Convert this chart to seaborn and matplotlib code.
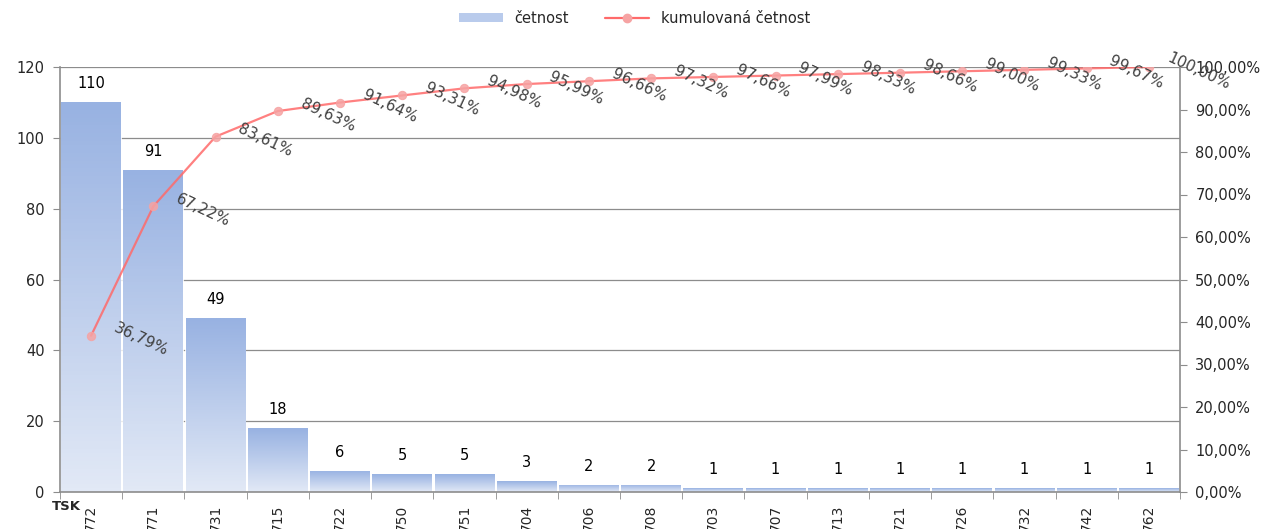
import numpy as np
import pandas as pd
import seaborn as sns
import matplotlib.pyplot as plt
from matplotlib.colors import LinearSegmentedColormap
from matplotlib.patches import Patch
from matplotlib.lines import Line2D

# data
codes = ['772', '771', '731', '715', '722', '750', '751', '704', '706',
         '708', '703', '707', '713', '721', '726', '732', '742', '762']
counts = [110, 91, 49, 18, 6, 5, 5, 3, 2, 2, 1, 1, 1, 1, 1, 1, 1, 1]
cum_pct = [36.79, 67.22, 83.61, 89.63, 91.64, 93.31, 94.98, 95.99, 96.66,
           97.32, 97.66, 97.99, 98.33, 98.66, 99.00, 99.33, 99.67, 100.00]

df = pd.DataFrame({'kod': codes, 'cetnost': counts})

sns.set_style('white')
plt.rcParams['font.family'] = ['DejaVu Sans']

fig = plt.figure(figsize=(12.69, 5.29), dpi=100)
ax = fig.add_axes([60 / 1269, 1 - 492 / 529, 1120 / 1269, 425 / 529])

sns.barplot(data=df, x='kod', y='cetnost', order=codes, ax=ax,
            width=0.96, color='#B4C7EA', edgecolor='white', linewidth=1.2)

# gradient fill inside every bar
grad = LinearSegmentedColormap.from_list('g', ['#E2E9F6', '#98B2E2'])
for p in ax.patches:
    x0, y0 = p.get_x(), p.get_y()
    w, h = p.get_width(), p.get_height()
    im = ax.imshow(np.linspace(0, 1, 100).reshape(-1, 1), cmap=grad,
                   origin='lower', aspect='auto',
                   extent=[x0, x0 + w, y0, y0 + h], zorder=p.get_zorder())
    im.set_clip_path(p)
    p.set_facecolor('none')

for i, v in enumerate(counts):
    ax.annotate(str(v), (i, v), xytext=(0, 8), textcoords='offset points',
                ha='center', va='bottom', fontsize=10.5, color='black')

ax.set_xlim(-0.5, len(codes) - 0.5)
ax.set_ylim(0, 120)
ax.set_yticks(range(0, 121, 20))
ax.yaxis.grid(True, color='#8C8C8C', linewidth=0.9)
ax.set_axisbelow(True)
ax.set_xlabel('')
ax.set_ylabel('')

ax.set_xticks(range(len(codes)))
ax.set_xticklabels(codes, rotation=90, fontsize=10, va='top')
ax.set_xticks(np.arange(-0.5, len(codes), 1), minor=True)
ax.tick_params(axis='x', which='major', length=0, pad=9)
ax.tick_params(axis='x', which='minor', length=5, color='#8C8C8C',
               direction='out', bottom=True)
ax.tick_params(axis='y', length=5, color='#8C8C8C', direction='out',
               labelsize=10.5, left=True, pad=6)

for s in ['top', 'right']:
    ax.spines[s].set_visible(False)
for s in ['left', 'bottom']:
    ax.spines[s].set_color('#8C8C8C')
    ax.spines[s].set_linewidth(1.2)

# cumulative line on the secondary axis
ax2 = ax.twinx()
sns.lineplot(x=np.arange(len(codes)), y=cum_pct, ax=ax2, color='#FF6A6A',
             linewidth=1.6, alpha=0.85, marker='o', markersize=6,
             markerfacecolor='#F6A3A3', markeredgecolor='#F6A3A3')
ax2.set_ylim(0, 100)
ax2.set_yticks(range(0, 101, 10))
ax2.set_yticklabels([f'{v:.2f}%'.replace('.', ',') for v in range(0, 101, 10)],
                    fontsize=10.5)
ax2.tick_params(axis='y', length=5, color='#8C8C8C', direction='out',
                right=True, pad=6)
for s in ['top', 'left', 'bottom']:
    ax2.spines[s].set_visible(False)
ax2.spines['right'].set_color('#8C8C8C')
ax2.spines['right'].set_linewidth(1.2)
ax2.set_ylabel('')

for i, v in enumerate(cum_pct):
    ax2.annotate(f'{v:.2f}%'.replace('.', ','), (i, v), xytext=(36, -3),
                 textcoords='offset points', ha='center', va='center',
                 rotation=-25, fontsize=11, color='#404040')

fig.text(66 / 1269, 1 - 506 / 529, 'TSK', fontsize=9.5, fontweight='bold',
         ha='center', va='center')

handles = [Patch(facecolor='#B9CBEC', edgecolor='none'),
           Line2D([0], [0], color='#FF6A6A', linewidth=1.6, marker='o',
                  markersize=6, markerfacecolor='#F6A3A3',
                  markeredgecolor='#F6A3A3')]
fig.legend(handles, ['četnost', 'kumulovaná četnost'], loc='center',
           bbox_to_anchor=(0.5, 1 - 18 / 529), ncol=2, frameon=False,
           fontsize=10.5, handlelength=3, handleheight=0.6, columnspacing=2.5)

fig.savefig('out.png', dpi=100)
